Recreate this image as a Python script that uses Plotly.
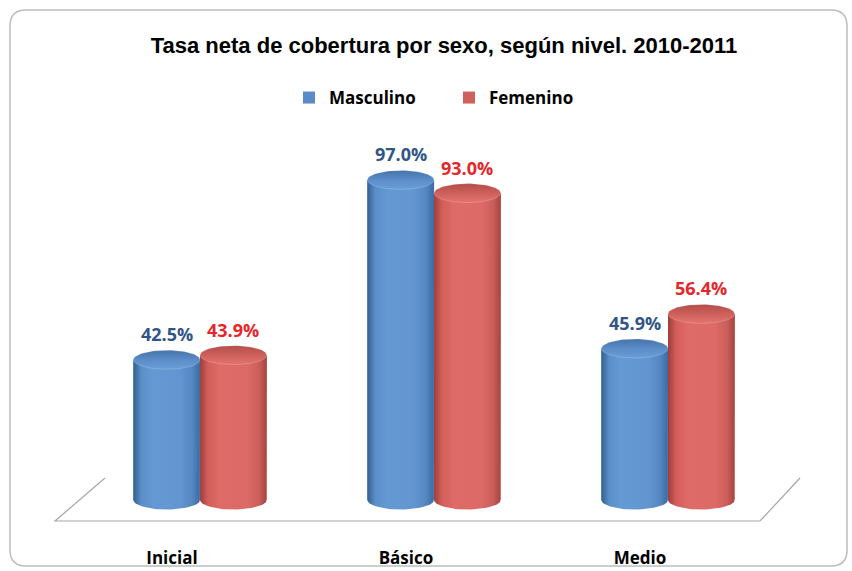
import numpy as np
import plotly.graph_objects as go

# ---------------- data ----------------
categories = ["Inicial", "Básico", "Medio"]
series_names = ["Masculino", "Femenino"]
masculino = [42.5, 97.0, 45.9]
femenino = [43.9, 93.0, 56.4]
title_text = "Tasa neta de cobertura por sexo, según nivel. 2010-2011"

# ---------------- layout geometry ----------------
W, H = 852, 571
L, R, T, B = 55, 52, 130, 41
plot_w = W - L - R
plot_h = H - T - B
y_range = [-9.09, 112.12]
x_range = [-0.62, 2.564]
px_per_y = plot_h / (y_range[1] - y_range[0])

BW = 0.285                    # bar (cylinder) width in x units
EH = 9.5 / px_per_y           # ellipse half height in y units
LABEL_SHIFT = -0.12           # category label offset (3D perspective)

body_scales = {
    "Masculino": [[0, "#35608f"], [0.12, "#5a8fca"], [0.3, "#6599d3"], [0.7, "#6396d0"],
                  [0.88, "#5587c2"], [1, "#3d6aa0"]],
    "Femenino": [[0, "#9c3f3c"], [0.12, "#d35e5a"], [0.3, "#de6b67"], [0.7, "#dd6a66"],
                 [0.88, "#cc5f5b"], [1, "#a5443f"]],
}
top_scales = {
    "Masculino": [[0, "#6a9ed7"], [0.45, "#5d8fca"], [1, "#4673ab"]],
    "Femenino": [[0, "#e3736e"], [0.45, "#d0625d"], [1, "#b24d49"]],
}
bar_colors = {"Masculino": "#5a8bc8", "Femenino": "#d0605b"}
label_colors = {"Masculino": "#2f5686", "Femenino": "#e5262a"}
FONT = "Open Sans, Lato, sans-serif"

fig = go.Figure()

values = {"Masculino": masculino, "Femenino": femenino}
offsets = {"Masculino": -BW, "Femenino": 0.0}
xs = list(range(len(categories)))

# base bars (for legend / data)
for name in series_names:
    fig.add_trace(go.Bar(
        x=xs, y=values[name], name=f"<b>{name}</b>", width=BW, offset=offsets[name],
        marker=dict(color=bar_colors[name], line=dict(width=0)),
        hoverinfo="skip", showlegend=True,
    ))

t_half = np.linspace(0, np.pi, 40)
t_full = np.linspace(0, 2 * np.pi, 80)

for i in xs:
    for name in series_names:
        v = values[name][i]
        xl = i + offsets[name]
        xr = xl + BW
        xc = (xl + xr) / 2
        # body: rectangle + rounded bottom
        bx = [xl, xl, xr, xr] + list(xc + (BW / 2) * np.cos(t_half))
        by = [0, v, v, 0] + list(-EH * np.sin(t_half))
        fig.add_trace(go.Scatter(
            x=bx, y=by, mode="lines", fill="toself", line=dict(width=0),
            fillgradient=dict(type="horizontal", colorscale=body_scales[name]),
            showlegend=False, hoverinfo="skip",
        ))
        # top cap
        tx = list(xc + (BW / 2) * np.cos(t_full))
        ty = list(v + EH * np.sin(t_full))
        fig.add_trace(go.Scatter(
            x=tx, y=ty, mode="lines", fill="toself", line=dict(width=0.6, color="rgba(255,255,255,0.3)"),
            fillgradient=dict(type="vertical", colorscale=top_scales[name]),
            showlegend=False, hoverinfo="skip",
        ))
        fig.add_annotation(
            x=xc, y=v, text=f"<b>{v:.1f}%</b>", showarrow=False,
            yanchor="bottom", yshift=EH * px_per_y + 2,
            font=dict(family=FONT, size=18, color=label_colors[name]),
        )

def px2paper(px, py):
    return (px - L) / plot_w, (H - B - py) / plot_h

# floor outline
floor_pts = [(105, 478), (55, 521), (760, 521), (800, 478)]
pp = [px2paper(*p) for p in floor_pts]
path = "M {} {} L {} {} L {} {} L {} {}".format(*[c for p in pp for c in p])
fig.add_shape(type="path", path=path, xref="paper", yref="paper",
              line=dict(color="#a6a6a6", width=1.2), layer="below")

# rounded outer border
x0, y0, x1, y1, r = 10, 10, 847, 566, 16
def P(px, py):
    a, b = px2paper(px, py)
    return f"{a:.5f},{b:.5f}"
border = (f"M {P(x0 + r, y0)} L {P(x1 - r, y0)} Q {P(x1, y0)} {P(x1, y0 + r)} "
          f"L {P(x1, y1 - r)} Q {P(x1, y1)} {P(x1 - r, y1)} L {P(x0 + r, y1)} "
          f"Q {P(x0, y1)} {P(x0, y1 - r)} L {P(x0, y0 + r)} Q {P(x0, y0)} {P(x0 + r, y0)} Z")
fig.add_shape(type="path", path=border, xref="paper", yref="paper",
              line=dict(color="#bdbdbd", width=1.5), layer="below")

fig.update_layout(
    width=W, height=H,
    margin=dict(l=L, r=R, t=T, b=B, autoexpand=False),
    paper_bgcolor="white", plot_bgcolor="rgba(0,0,0,0)",
    barmode="overlay",
    title=dict(text=f"<b>{title_text}</b>", x=444 / W, y=1 - 45 / H,
               xref="container", yref="container", xanchor="center", yanchor="middle",
               font=dict(family="Liberation Sans, Arial, sans-serif", size=22, color="black")),
    legend=dict(orientation="h", x=449 / W, y=1 - 98 / H, xref="container", yref="container",
                xanchor="center", yanchor="middle", entrywidth=115,
                font=dict(family=FONT, size=17, color="black"),
                itemsizing="constant"),
    xaxis=dict(range=x_range, showgrid=False, zeroline=False, showline=False,
               tickvals=[i + LABEL_SHIFT for i in xs],
               ticktext=[f"<b>{c}</b>" for c in categories], ticks="",
               ticklabelstandoff=16, automargin=False,
               tickfont=dict(family=FONT, size=17, color="black"),
               fixedrange=True),
    yaxis=dict(range=y_range, visible=False, fixedrange=True, automargin=False),
    showlegend=True,
)

fig.write_html("out.html", config={"displayModeBar": False},
               post_script="document.body.style.margin='0';")
